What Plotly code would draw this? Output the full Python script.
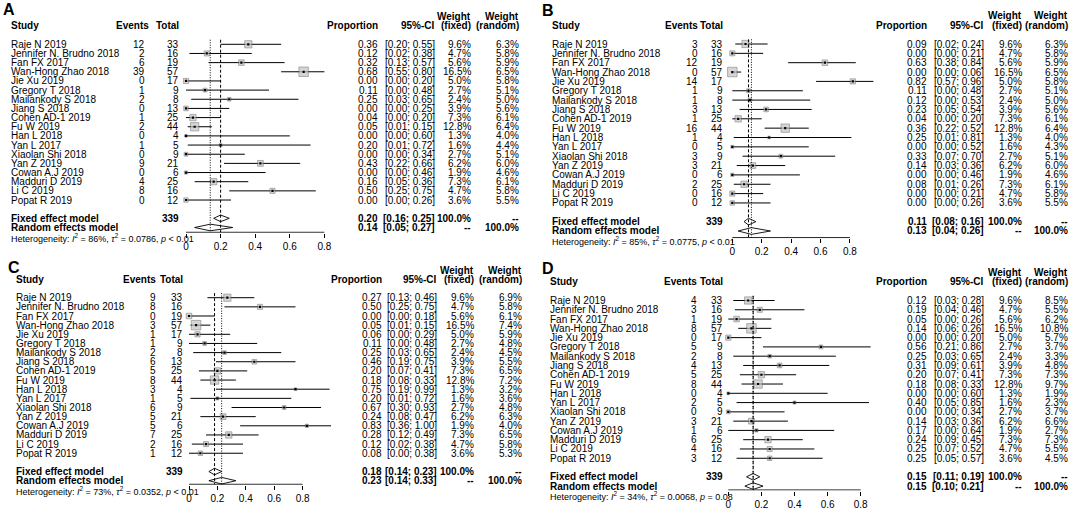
import plotly.graph_objects as go

W, H = 1072, 510
FONT = "Liberation Sans, Arial, Helvetica, sans-serif"

# ---------------- data ----------------
studies = ["Raje N 2019", "Jennifer N. Brudno 2018", "Fan FX 2017", "Wan-Hong Zhao 2018",
           "Jie Xu 2019", "Gregory T 2018", "Mailankody S 2018", "Jiang S 2018",
           "Cohen AD-1 2019", "Fu W 2019", "Han L 2018", "Yan L 2017", "Xiaolan Shi 2018",
           "Yan Z 2019", "Cowan A.J 2019", "Madduri D 2019", "Li C 2019", "Popat R 2019"]
totals = [33, 16, 19, 57, 17, 9, 8, 13, 25, 44, 4, 5, 9, 21, 6, 25, 16, 12]
weight_fixed = [9.6, 4.7, 5.6, 16.5, 5.0, 2.7, 2.4, 3.9, 7.3, 12.8, 1.3, 1.6, 2.7, 6.2, 1.9, 7.3, 4.7, 3.6]
total_n = 339
tick_vals = [0, 0.2, 0.4, 0.6, 0.8]
tick_text = ["0", "0.2", "0.4", "0.6", "0.8"]

events_A = [12, 2, 6, 39, 0, 1, 2, 0, 1, 2, 0, 1, 0, 9, 0, 4, 8, 0]
prop_A = [0.36, 0.12, 0.32, 0.68, 0.00, 0.11, 0.25, 0.00, 0.04, 0.05, 0.00, 0.20, 0.00, 0.43, 0.00, 0.16, 0.50, 0.00]
lo_A = [0.20, 0.02, 0.13, 0.55, 0.00, 0.00, 0.03, 0.00, 0.00, 0.01, 0.00, 0.01, 0.00, 0.22, 0.00, 0.05, 0.25, 0.00]
hi_A = [0.55, 0.38, 0.57, 0.80, 0.20, 0.48, 0.65, 0.25, 0.20, 0.15, 0.60, 0.72, 0.34, 0.66, 0.46, 0.36, 0.75, 0.26]
wrand_A = [6.3, 5.8, 5.9, 6.5, 5.8, 5.1, 5.0, 5.6, 6.1, 6.4, 4.0, 4.4, 5.1, 6.0, 4.6, 6.1, 5.8, 5.5]
fixed_A = [0.20, 0.16, 0.25]
random_A = [0.14, 0.05, 0.27]
het_A = ["86%", "0.0786", "&lt; 0.01"]

events_B = [3, 0, 12, 0, 14, 1, 1, 3, 1, 16, 1, 0, 3, 3, 0, 2, 0, 0]
prop_B = [0.09, 0.00, 0.63, 0.00, 0.82, 0.11, 0.12, 0.23, 0.04, 0.36, 0.25, 0.00, 0.33, 0.14, 0.00, 0.08, 0.00, 0.00]
lo_B = [0.02, 0.00, 0.38, 0.00, 0.57, 0.00, 0.00, 0.05, 0.00, 0.22, 0.01, 0.00, 0.07, 0.03, 0.00, 0.01, 0.00, 0.00]
hi_B = [0.24, 0.21, 0.84, 0.06, 0.96, 0.48, 0.53, 0.54, 0.20, 0.52, 0.81, 0.52, 0.70, 0.36, 0.46, 0.26, 0.21, 0.26]
wrand_B = [6.3, 5.8, 5.9, 6.5, 5.8, 5.1, 5.0, 5.6, 6.1, 6.4, 4.0, 4.3, 5.1, 6.0, 4.6, 6.1, 5.8, 5.5]
fixed_B = [0.11, 0.08, 0.16]
random_B = [0.13, 0.04, 0.26]
het_B = ["85%", "0.0775", "&lt; 0.01"]

events_C = [9, 8, 0, 3, 1, 1, 2, 6, 5, 8, 3, 1, 6, 5, 5, 7, 2, 1]
prop_C = [0.27, 0.50, 0.00, 0.05, 0.06, 0.11, 0.25, 0.46, 0.20, 0.18, 0.75, 0.20, 0.67, 0.24, 0.83, 0.28, 0.12, 0.08]
lo_C = [0.13, 0.25, 0.00, 0.01, 0.00, 0.00, 0.03, 0.19, 0.07, 0.08, 0.19, 0.01, 0.30, 0.08, 0.36, 0.12, 0.02, 0.00]
hi_C = [0.46, 0.75, 0.18, 0.15, 0.29, 0.48, 0.65, 0.75, 0.41, 0.33, 0.99, 0.72, 0.93, 0.47, 1.00, 0.49, 0.38, 0.38]
wrand_C = [6.9, 5.8, 6.1, 7.4, 5.9, 4.8, 4.5, 5.5, 6.5, 7.2, 3.2, 3.6, 4.8, 6.3, 4.0, 6.5, 5.8, 5.3]
fixed_C = [0.18, 0.14, 0.23]
random_C = [0.23, 0.14, 0.33]
het_C = ["73%", "0.0352", "&lt; 0.01"]

events_D = [4, 3, 1, 8, 0, 5, 2, 4, 5, 8, 0, 2, 0, 3, 1, 6, 4, 3]
prop_D = [0.12, 0.19, 0.05, 0.14, 0.00, 0.56, 0.25, 0.31, 0.20, 0.18, 0.00, 0.40, 0.00, 0.14, 0.17, 0.24, 0.25, 0.25]
lo_D = [0.03, 0.04, 0.00, 0.06, 0.00, 0.21, 0.03, 0.09, 0.07, 0.08, 0.00, 0.05, 0.00, 0.03, 0.00, 0.09, 0.07, 0.05]
hi_D = [0.28, 0.46, 0.26, 0.26, 0.20, 0.86, 0.65, 0.61, 0.41, 0.33, 0.60, 0.85, 0.34, 0.36, 0.64, 0.45, 0.52, 0.57]
wrand_D = [8.5, 5.5, 6.2, 10.8, 5.7, 3.7, 3.3, 4.8, 7.3, 9.7, 1.9, 2.3, 3.7, 6.6, 2.7, 7.3, 5.5, 4.5]
fixed_D = [0.15, 0.11, 0.19]
random_D = [0.15, 0.10, 0.21]
het_D = ["34%", "0.0068", "= 0.08"]

# ---------------- layout of the four panels (pixel positions) ----------------
panels = [
    dict(letter="A", lx=8.5, ly=9.5, events=events_A, prop=prop_A, lo=lo_A, hi=hi_A, wr=wrand_A,
         fixed=fixed_A, random=random_A, het=het_A,
         name_x=10, ev_r=145.7, evh_r=150, tot_r=180, prop_r=379, ci_r=436, wf_r=471.7, wr_r=520,
         x0=186, sc=173, row0=44.3, dy=9.16, axis=232.3),
    dict(letter="B", lx=547.5, ly=10, events=events_B, prop=prop_B, lo=lo_B, hi=hi_B, wr=wrand_B,
         fixed=fixed_B, random=random_B, het=het_B,
         name_x=551, ev_r=698.5, evh_r=699, tot_r=724.3, prop_r=927.5, ci_r=985, wf_r=1022.7, wr_r=1069.3,
         x0=732.3, sc=147, row0=44, dy=9.35, axis=237.7),
    dict(letter="C", lx=14, ly=267.5, events=events_C, prop=prop_C, lo=lo_C, hi=hi_C, wr=wrand_C,
         fixed=fixed_C, random=random_C, het=het_C,
         name_x=15, ev_r=156.5, evh_r=157, tot_r=184, prop_r=382.7, ci_r=438.3, wf_r=475, wr_r=523.3,
         x0=189, sc=142, row0=297.7, dy=9.15, axis=484.3),
    dict(letter="D", lx=548, ly=268, events=events_D, prop=prop_D, lo=lo_D, hi=hi_D, wr=wrand_D,
         fixed=fixed_D, random=random_D, het=het_D,
         name_x=549.3, ev_r=697.7, evh_r=697.7, tot_r=724.3, prop_r=927.7, ci_r=985, wf_r=1022.7, wr_r=1069.3,
         x0=728.3, sc=165.5, row0=300.5, dy=9.28, axis=490),
]

fig = go.Figure()
annotations = []


def add_text(xpx, ypx, text, xanchor="left", size=10, bold=False):
    if bold:
        text = "<b>" + text + "</b>"
    annotations.append(dict(x=xpx / W, y=1 - ypx / H, xref="paper", yref="paper", text=text,
                            showarrow=False, xanchor=xanchor, align=xanchor, yanchor="middle",
                            borderpad=0, font=dict(family=FONT, size=size, color="black")))


layout_axes = {}
XR = [-0.05, 1.05]
FIX_ROW, RAN_ROW, HET_ROW = 19, 20, 21.1
rows = list(range(len(studies)))

for k, P in enumerate(panels, start=1):
    sfx = "" if k == 1 else str(k)
    xa, ya = "x" + sfx, "y" + sfx

    def rpx(r, P=P):
        return P["row0"] + r * P["dy"]

    bottom_px = P["axis"] + 0.5
    top_row = -1.0
    axis_row = (P["axis"] - P["row0"]) / P["dy"]
    layout_axes["xaxis" + sfx] = dict(
        domain=[(P["x0"] + XR[0] * P["sc"]) / W, (P["x0"] + XR[1] * P["sc"]) / W],
        range=XR, anchor=ya, showgrid=False, zeroline=False, showline=False,
        tickvals=tick_vals, ticktext=tick_text, ticks="outside", ticklen=4, tickwidth=1,
        tickcolor="black", tickfont=dict(family=FONT, size=10, color="black"), fixedrange=True)
    layout_axes["yaxis" + sfx] = dict(
        domain=[1 - bottom_px / H, 1 - rpx(top_row) / H],
        range=[(bottom_px - P["row0"]) / P["dy"], top_row], anchor=xa, visible=False, fixedrange=True)

    # CI lines
    xs, ys = [], []
    for i in rows:
        xs += [P["lo"][i], P["hi"][i], None]
        ys += [i, i, None]
    fig.add_trace(go.Scatter(x=xs, y=ys, xaxis=xa, yaxis=ya, mode="lines",
                             line=dict(color="black", width=1), hoverinfo="skip", showlegend=False))
    # squares (area proportional to fixed weight)
    sizes = [9.5 * (w / max(weight_fixed)) ** 0.5 for w in weight_fixed]
    fig.add_trace(go.Scatter(x=P["prop"], y=rows, xaxis=xa, yaxis=ya, mode="markers",
                             marker=dict(symbol="square", size=sizes, color="#c4c4c4",
                                         line=dict(color="#505050", width=0.6)),
                             hoverinfo="skip", showlegend=False))
    fig.add_trace(go.Scatter(x=P["prop"], y=rows, xaxis=xa, yaxis=ya, mode="markers",
                             marker=dict(symbol="square", size=2.2, color="black"),
                             hoverinfo="skip", showlegend=False))
    # diamonds
    hh = 0.36
    for (est, lo, hi), row, fc in [(P["fixed"], FIX_ROW, "white"), (P["random"], RAN_ROW, "white")]:
        fig.add_trace(go.Scatter(x=[lo, est, hi, est, lo], y=[row, row - hh, row, row + hh, row],
                                 xaxis=xa, yaxis=ya, mode="lines", fill="toself", fillcolor=fc,
                                 line=dict(color="black", width=0.9), hoverinfo="skip", showlegend=False))
    # reference lines
    fig.add_trace(go.Scatter(x=[P["fixed"][0]] * 2, y=[-0.5, axis_row], xaxis=xa, yaxis=ya, mode="lines",
                             line=dict(color="black", width=1, dash="3px,2px"),
                             hoverinfo="skip", showlegend=False))
    fig.add_trace(go.Scatter(x=[P["random"][0]] * 2, y=[-0.5, axis_row], xaxis=xa, yaxis=ya, mode="lines",
                             line=dict(color="black", width=1, dash="1px,1.5px"),
                             hoverinfo="skip", showlegend=False))
    # axis baseline
    fig.add_trace(go.Scatter(x=[tick_vals[0], tick_vals[-1]], y=[axis_row, axis_row], xaxis=xa, yaxis=ya,
                             mode="lines", line=dict(color="black", width=1),
                             hoverinfo="skip", showlegend=False))

    # ---- text ----
    add_text(P["lx"], P["ly"], P["letter"], "center", size=16, bold=True)
    hy = rpx(-2)
    wy = rpx(-3)
    add_text(P["name_x"], hy, "Study", "left", bold=True)
    add_text(P["evh_r"], hy, "Events", "right", bold=True)
    add_text(P["tot_r"], hy, "Total", "right", bold=True)
    add_text(P["prop_r"], hy, "Proportion", "right", bold=True)
    add_text(P["ci_r"], hy, "95%-CI", "right", bold=True)
    add_text(P["wf_r"], wy, "Weight", "right", bold=True)
    add_text(P["wf_r"], hy, "(fixed)", "right", bold=True)
    add_text(P["wr_r"], wy, "Weight", "right", bold=True)
    add_text(P["wr_r"], hy, "(random)", "right", bold=True)

    for i in rows:
        y = rpx(i)
        add_text(P["name_x"], y, studies[i], "left")
        add_text(P["ev_r"], y, str(P["events"][i]), "right")
        add_text(P["tot_r"], y, str(totals[i]), "right")
        add_text(P["prop_r"], y, f"{P['prop'][i]:.2f}", "right")
        add_text(P["ci_r"], y, f"[{P['lo'][i]:.2f}; {P['hi'][i]:.2f}]", "right")
        add_text(P["wf_r"], y, f"{weight_fixed[i]:.1f}%", "right")
        add_text(P["wr_r"], y, f"{P['wr'][i]:.1f}%", "right")

    fy, ry = rpx(FIX_ROW), rpx(RAN_ROW)
    add_text(P["name_x"], fy, "Fixed effect model", "left", bold=True)
    add_text(P["tot_r"], fy, str(total_n), "right", bold=True)
    add_text(P["prop_r"], fy, f"{P['fixed'][0]:.2f}", "right", bold=True)
    add_text(P["ci_r"], fy, f"[{P['fixed'][1]:.2f}; {P['fixed'][2]:.2f}]", "right", bold=True)
    add_text(P["wf_r"], fy, "100.0%", "right", bold=True)
    add_text(P["wr_r"], fy, "--", "right", bold=True)
    add_text(P["name_x"], ry, "Random effects model", "left", bold=True)
    add_text(P["prop_r"], ry, f"{P['random'][0]:.2f}", "right", bold=True)
    add_text(P["ci_r"], ry, f"[{P['random'][1]:.2f}; {P['random'][2]:.2f}]", "right", bold=True)
    add_text(P["wf_r"], ry, "--", "right", bold=True)
    add_text(P["wr_r"], ry, "100.0%", "right", bold=True)
    i2, t2, pv = P["het"]
    add_text(P["name_x"], rpx(HET_ROW),
             f"Heterogeneity: <i>I</i><sup>2</sup> = {i2}, <i>\u03c4</i><sup>2</sup> = {t2}, <i>p</i> {pv}",
             "left", size=9)

fig.update_layout(width=W, height=H, margin=dict(l=0, r=0, t=0, b=0),
                  paper_bgcolor="white", plot_bgcolor="white", showlegend=False,
                  annotations=annotations, **layout_axes)

fig.write_html("out.html", config={"displayModeBar": False},
               post_script="document.body.style.margin='0';document.body.style.padding='0';")
